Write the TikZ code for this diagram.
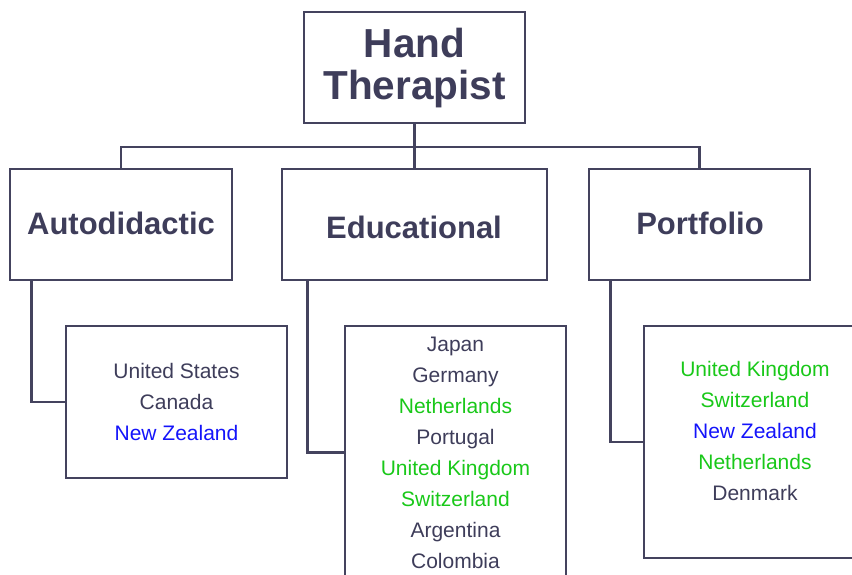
\documentclass[tikz,border=0pt]{standalone}
\usepackage{fontspec}
\setmainfont{Liberation Sans}
\definecolor{ink}{RGB}{62,61,90}
\definecolor{edge}{RGB}{68,67,94}
\definecolor{grn}{RGB}{25,200,25}
\definecolor{blu}{RGB}{20,20,250}
\tikzset{
  box/.style={draw=edge, line width=2.8pt, inner sep=0pt, rectangle},
  conn/.style={draw=edge, line width=2.8pt},
  rootlabel/.style={text=ink, font=\bfseries\fontsize{40.5}{42}\selectfont, align=center, inner sep=0pt},
  catlabel/.style={text=ink, font=\bfseries\fontsize{31}{32}\selectfont, inner sep=0pt, anchor=base},
  leaflabel/.style={text=ink, font=\fontsize{21}{31}\selectfont, align=center, inner sep=0pt},
}
\begin{document}
\begin{tikzpicture}[x=1pt,y=-1pt]
\useasboundingbox (0,0) rectangle (852,575);
\begin{scope}
\clip (0,0) rectangle (852,575);
% root
\node[box, minimum width=221pt, minimum height=111pt] (root) at (414.5,67.5) {};
\node[rootlabel, anchor=base] (roottext) at (414.5,58) {Hand};
\node[rootlabel, anchor=base] (roottext2) at (414.5,100) {Therapist};
% categories
\node[box, minimum width=222pt, minimum height=111pt] (auto) at (121,224.5) {};
\node[box, minimum width=265pt, minimum height=111pt] (edu) at (414.5,224.5) {};
\node[box, minimum width=221pt, minimum height=111pt] (port) at (699.5,224.5) {};
\node[catlabel] (autot) at (121,234) {Autodidactic};
\node[catlabel] (edut) at (414,238) {Educational};
\node[catlabel] (portt) at (700,234) {Portfolio};
% leaves
\node[box, minimum width=221pt, minimum height=152pt] (aleaf) at (176.5,402) {};
\node[leaflabel] (aleaft) at (176.5,402) {United States\\Canada\\\textcolor{blu}{New Zealand}};
\node[box, minimum width=221pt, minimum height=253pt] (eleaf) at (455.5,452.5) {};
\node[leaflabel] (eleaft) at (455.5,452.5) {Japan\\Germany\\\textcolor{grn}{Netherlands}\\Portugal\\\textcolor{grn}{United Kingdom}\\\textcolor{grn}{Switzerland}\\Argentina\\Colombia};
\node[box, minimum width=222pt, minimum height=232pt] (pleaf) at (755,442) {};
\node[leaflabel] (pleaft) at (755,431) {\textcolor{grn}{United Kingdom}\\\textcolor{grn}{Switzerland}\\\textcolor{blu}{New Zealand}\\\textcolor{grn}{Netherlands}\\Denmark};
% connectors
\coordinate (bar) at (414.5,147);
\draw[conn] (root.south) -- (bar);
\draw[conn] (bar) -| (auto.north);
\draw[conn] (bar) -| (port.north);
\draw[conn] (bar) -- (edu.north);
\draw[conn] ([xshift=23pt]auto.south west) |- (aleaf.west);
\draw[conn] ([xshift=27pt]edu.south west) |- (eleaf.west);
\draw[conn] ([xshift=23pt]port.south west) |- (pleaf.west);
\end{scope}
\end{tikzpicture}
\end{document}
